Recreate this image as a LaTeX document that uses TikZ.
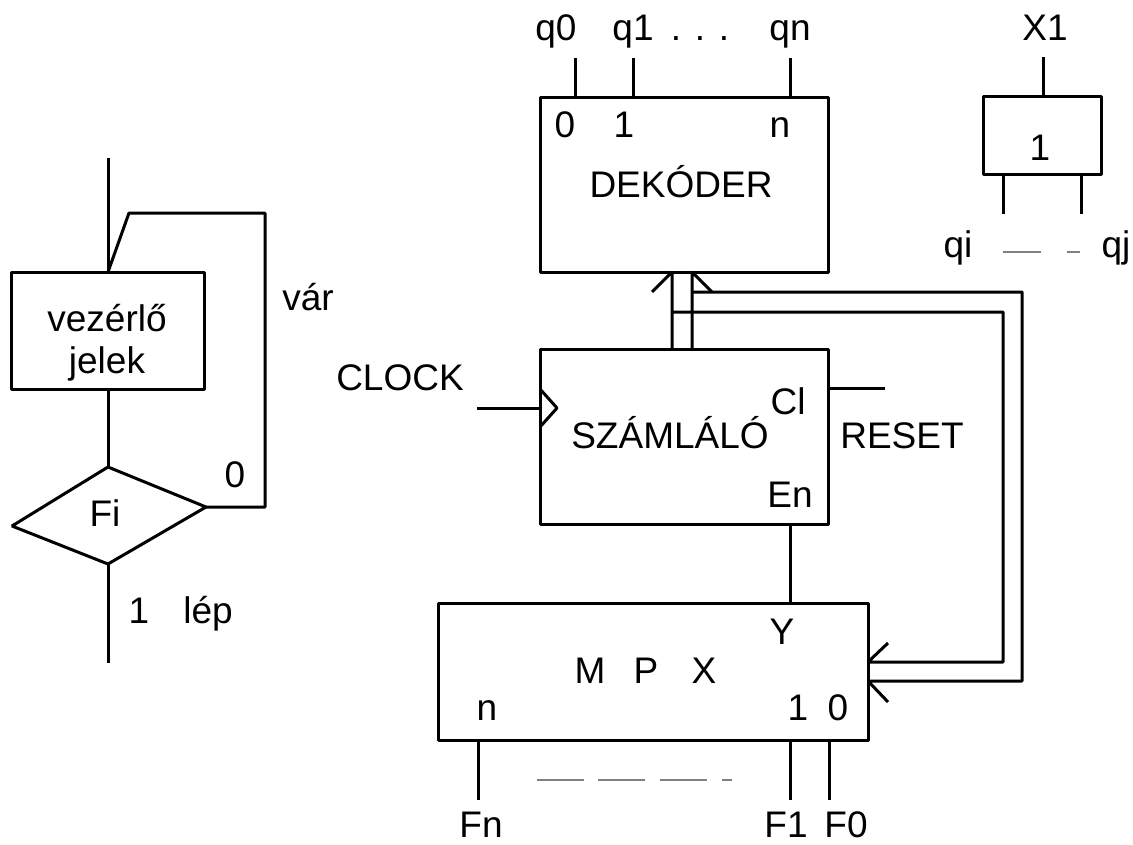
\documentclass[tikz,border=0pt]{standalone}
\usepackage{fontspec}
\setmainfont{Liberation Sans}
\begin{document}
\begin{tikzpicture}[x=1pt,y=-1pt, line width=3pt, line join=bevel,
  box/.style={draw, rectangle, inner sep=0pt, outer sep=0pt},
  lbl/.style={inner sep=0pt, text height=26.5pt, text depth=0pt, font=\fontsize{37}{42}\selectfont},
  dashg/.style={draw=gray, line width=2pt}]
\useasboundingbox (0,0) rectangle (1133,844);
% ---------- flowchart ----------
\node[box, minimum width=193pt, minimum height=117pt] (vez) at (108,330.5) {};
\node[lbl] (vez1) at (107,318) {vezérlő};
\node[lbl] (vez2) at (107,360) {jelek};
\coordinate (ftop) at (108,158);
\coordinate (dt) at (108,467);
\coordinate (dr) at (206,507);
\coordinate (db) at (108,564);
\coordinate (dl) at (12,526);
\coordinate (fbot) at (108,663);
\coordinate (lp1) at (129,213);
\coordinate (lp2) at (265,213);
\coordinate (lp3) at (265,507);
\draw (ftop) -- (vez.north);
\draw (vez.north) -- (lp1) -- (lp2) -- (lp3) -- (dr);
\draw (dt) -- (dr) -- (db) -- (dl) -- cycle;
\draw (vez.south) -- (dt);
\draw (db) -- (fbot);
\node[lbl] (fi) at (105,513) {Fi};
\node[lbl] (zero) at (235,474) {0};
\node[lbl] (var) at (308,297) {vár};
\node[lbl] (one) at (139,610) {1};
\node[lbl] (lep) at (208,610) {lép};
% ---------- decoder ----------
\node[box, minimum width=288pt, minimum height=175pt] (dek) at (684,184.5) {};
\node[lbl] (dekt) at (681,184) {DEKÓDER};
\node[lbl] (d0) at (565,124) {0};
\node[lbl] (d1) at (624,124) {1};
\node[lbl] (dn) at (780,124) {n};
\coordinate (q0a) at (575,58);
\coordinate (q1a) at (633,58);
\coordinate (qna) at (790,58);
\draw (q0a) -- (q0a |- dek.north);
\draw (q1a) -- (q1a |- dek.north);
\draw (qna) -- (qna |- dek.north);
\node[lbl] (q0) at (556,27) {q0};
\node[lbl] (q1) at (633,27) {q1};
\node[lbl] (dots) at (700,27) {. . .};
\node[lbl] (qn) at (790,27) {qn};
% ---------- counter ----------
\node[box, minimum width=288pt, minimum height=175pt] (sz) at (684,436.5) {};
\node[lbl] (szt) at (670,435) {SZÁMLÁLÓ};
\node[lbl] (cl) at (788,401) {Cl};
\node[lbl] (en) at (790,494) {En};
\node[lbl] (clock) at (400,377) {CLOCK};
\node[lbl] (reset) at (902,435) {RESET};
\coordinate (clk) at (477,408);
\coordinate (rst) at (885,388);
\draw (clk) -- (clk -| sz.west);
\draw (540,389) -- (557,408) -- (540,427);
\draw (rst) -- (rst -| sz.east);
% bus
\coordinate (b1) at (672,349);
\coordinate (b2) at (692,349);
\draw (652,292) -- (b1 |- dek.south) -- (b1);
\draw (712,292) -- (b2 |- dek.south) -- (b2);
\draw (692,292) -- (1022,292) -- (1022,681) -- (868,681) -- (888,702);
\draw (672,312) -- (1003,312) -- (1003,662) -- (868,662) -- (888,643);
% ---------- mpx ----------
\node[box, minimum width=430pt, minimum height=137pt] (mpx) at (653,671.5) {};
\coordinate (enl) at (790,524);
\draw (enl) -- (enl |- mpx.north);
\node[lbl] (y) at (782,631) {Y};
\node[lbl] (mm) at (590,670) {M};
\node[lbl] (pp) at (646,670) {P};
\node[lbl] (xx) at (704,670) {X};
\node[lbl] (mn) at (487,707) {n};
\node[lbl] (m1) at (798,707) {1};
\node[lbl] (m0) at (838,707) {0};
\coordinate (fnl) at (478,800);
\coordinate (f1l) at (790,800);
\coordinate (f0l) at (829,800);
\draw (fnl) -- (fnl |- mpx.south);
\draw (f1l) -- (f1l |- mpx.south);
\draw (f0l) -- (f0l |- mpx.south);
\node[lbl] (fn) at (481,824) {Fn};
\node[lbl] (f1) at (786,824) {F1};
\node[lbl] (f0) at (846,824) {F0};
\draw[dashg] (537,780) -- (584,780) (598,780) -- (645,780) (660,780) -- (707,780) (722,780) -- (732,780);
% ---------- OR gate ----------
\node[box, minimum width=118pt, minimum height=78pt] (or) at (1042,135) {};
\node[lbl] (or1) at (1040,147) {1};
\coordinate (x1l) at (1043,57);
\coordinate (qil) at (1003,214);
\coordinate (qjl) at (1081,214);
\draw (x1l) -- (x1l |- or.north);
\draw (qil) -- (qil |- or.south);
\draw (qjl) -- (qjl |- or.south);
\node[lbl] (x1) at (1045,27) {X1};
\node[lbl] (qi) at (958,244) {qi};
\node[lbl] (qj) at (1116,244) {qj};
\draw[dashg] (1003,252) -- (1041,252) (1067,252) -- (1080,252);
\end{tikzpicture}
\end{document}
